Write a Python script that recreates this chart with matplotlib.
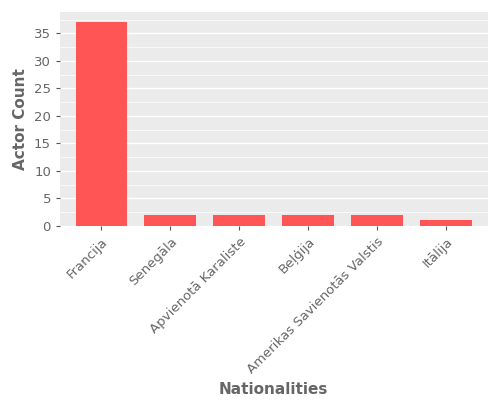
import matplotlib
matplotlib.use("Agg")
import matplotlib.pyplot as plt

categories = ["Francija", "Senegāla", "Apvienotā Karaliste", "Beļģija", "Amerikas Savienotās Valstis", "Itālija"]
values = [37, 2, 2, 2, 2, 1]

fig = plt.figure(figsize=(5, 4), dpi=100)
ax = fig.add_axes([0.12, 0.435, 0.855, 0.535])
ax.set_facecolor("#EBEBEB")
ax.bar(categories, values, color="#FF5555", width=0.75, zorder=2)
ax.grid(True, axis="y", color="white", linewidth=1, zorder=0)
ax.set_yticks(range(0, 36, 5))
ax.set_yticks(range(0, 38, 1), minor=False) if False else None
for y in [2.5, 7.5, 12.5, 17.5, 22.5, 27.5, 32.5, 37.5]:
    ax.axhline(y, color="white", linewidth=0.5, zorder=0)
ax.set_ylim(0, 38.9)
ax.set_xlim(-0.6, 5.6)
for s in ax.spines.values():
    s.set_visible(False)
ax.tick_params(colors="#555555", labelsize=9.5, length=3)
ax.tick_params(axis="x", colors="#555555")
plt.setp(ax.get_xticklabels(), rotation=45, ha="right", rotation_mode="anchor", color="#666666")
plt.setp(ax.get_yticklabels(), color="#666666")
ax.set_ylabel("Actor Count", fontsize=11, color="#666666", fontweight="bold")
ax.set_xlabel("Nationalities", fontsize=11, color="#666666", fontweight="bold")
fig.savefig("out.png", dpi=100)
